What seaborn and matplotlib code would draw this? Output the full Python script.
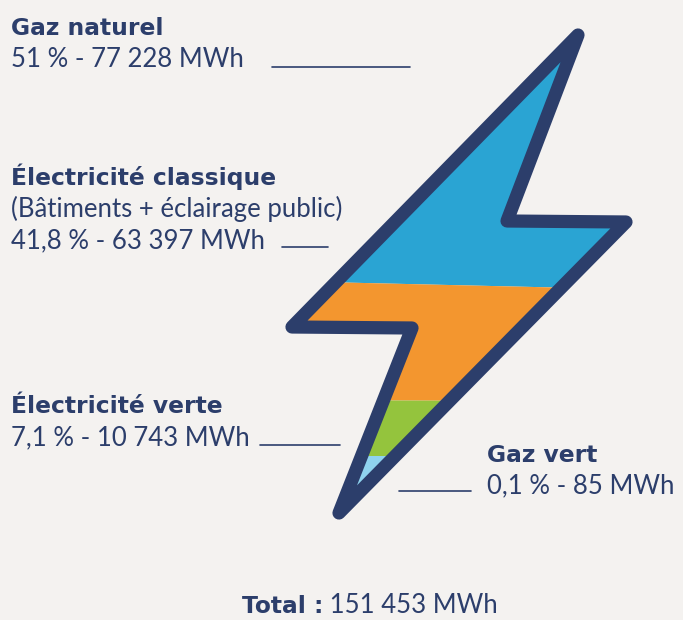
"""Répartition de la consommation d'énergie : infographie en forme d'éclair."""
import matplotlib

matplotlib.use("Agg")
import matplotlib.pyplot as plt
import numpy as np
import seaborn as sns
from matplotlib.patches import PathPatch
from matplotlib.path import Path

# --- données ---------------------------------------------------------------
categories = ["Gaz naturel", "Électricité classique", "Électricité verte", "Gaz vert"]
subtitles = ["", "(Bâtiments + éclairage public)", "", ""]
shares = [51.0, 41.8, 7.1, 0.1]
mwh = [77228, 63397, 10743, 85]
total_mwh = 151453

# --- style -----------------------------------------------------------------
BG = "#F4F2F0"
NAVY = "#2C3E6B"
band_colors = sns.color_palette(["#2AA4D3", "#F3962F", "#94C43D", "#8FD3EF"])

sns.set_theme(style="white")
plt.rcParams["font.family"] = ["Lato", "DejaVu Sans"]
TITLE_FONT = ["DejaVu Sans"]

# géométrie de l'éclair (coordonnées en pixels, axe y vers le bas)
bolt = [(578, 35), (507, 221), (626, 222), (339, 513), (412, 328), (292, 327)]
band_x = (270, 640)
band_edges = [(0, 0), (280.3, 289.0), (399.5, 401.0), (456, 456), (620, 620)]

# placement des étiquettes : (x, baselines, trait)
labels = [
    dict(x=11, y=[35, 67], line=(272, 410, 67)),
    dict(x=11, y=[185, 217, 248], line=(282, 328, 247)),
    dict(x=11, y=[413, 445], line=(260, 340, 445)),
    dict(x=487, y=[462, 493], line=(399, 471, 491)),
]
FS = 18.5
FS_TITLE = 16.8


def fr_number(n: float) -> str:
    return f"{n:,}".replace(",", " ")


def fr_share(v: float) -> str:
    return f"{v:g}".replace(".", ",")


fig = plt.figure(figsize=(6.83, 6.20), dpi=100, facecolor=BG)
ax = fig.add_axes([0, 0, 1, 1])
ax.set_facecolor(BG)
ax.set_xlim(0, 683)
ax.set_ylim(620, 0)
ax.axis("off")

bolt_path = Path(bolt + [bolt[0]], closed=True)
clip = PathPatch(bolt_path, facecolor="none", edgecolor="none", transform=ax.transData)
ax.add_patch(clip)

xs = np.array(band_x, dtype=float)
for i, color in enumerate(band_colors):
    top = np.array(band_edges[i], dtype=float)
    bottom = np.array(band_edges[i + 1], dtype=float)
    poly = ax.fill_between(xs, top, bottom, color=color, lw=0)
    poly.set_clip_path(clip)

outline = PathPatch(
    bolt_path, facecolor="none", edgecolor=NAVY, lw=9.5,
    joinstyle="round", capstyle="round", transform=ax.transData,
)
ax.add_patch(outline)

for cat, sub, share, value, lab in zip(categories, subtitles, shares, mwh, labels):
    lines = [sub] if sub else []
    lines.append(f"{fr_share(share)} % - {fr_number(value)} MWh")
    ax.text(lab["x"], lab["y"][0], cat, fontsize=FS_TITLE, fontweight="bold",
            family=TITLE_FONT, color=NAVY, va="baseline", ha="left")
    for txt, yy in zip(lines, lab["y"][1:]):
        ax.text(lab["x"], yy, txt, fontsize=FS, color=NAVY, va="baseline", ha="left")
    x0, x1, yl = lab["line"]
    ax.plot([x0, x1], [yl, yl], color=NAVY, lw=1.2)

tot = ax.text(242, 613, "Total :", fontsize=FS_TITLE, fontweight="bold",
              family=TITLE_FONT, color=NAVY, va="baseline", ha="left")
ax.annotate(f" {fr_number(total_mwh)} MWh", xy=(1, 0), xycoords=tot,
            fontsize=FS, color=NAVY, va="bottom", ha="left")

fig.savefig("out.png", dpi=100, facecolor=BG)
